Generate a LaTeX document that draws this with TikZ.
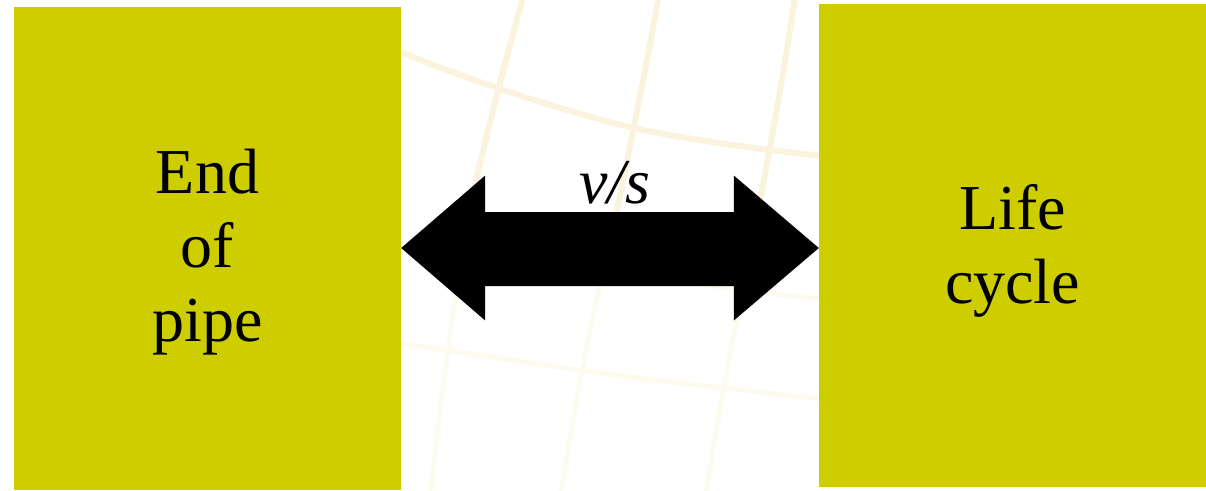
\documentclass[tikz,border=0pt]{standalone}
\usepackage{fontspec}
\setmainfont{Liberation Serif}
\usetikzlibrary{calc}
\definecolor{boxolive}{RGB}{206,205,0}
\definecolor{gridbeige}{RGB}{251,243,222}
\definecolor{gridfaint}{RGB}{253,250,238}
\tikzset{
  bigbox/.style={fill=boxolive, draw=none, inner sep=0pt},
  boxtext/.style={inner sep=0pt, align=center, font=\fontsize{64}{74}\selectfont},
  gridline/.style={draw=gridbeige, line width=6pt, line cap=round},
  gridlinefaint/.style={draw=gridfaint, line width=5pt, line cap=round}
}
\begin{document}
\begin{tikzpicture}[x=1pt,y=-1pt]
\useasboundingbox[fill=white] (0,0) rectangle (1206,490);
% faint background grid
\draw[gridline] (330,20) .. controls (430,70) and (560,110) .. (633,128) .. controls (700,142) and (780,152) .. (860,160);
\draw[gridlinefaint] (380,340) .. controls (480,355) and (600,375) .. (700,385) .. controls (760,392) and (800,398) .. (860,402);
\draw[gridlinefaint] (650,275) .. controls (720,288) and (780,296) .. (860,302);
\draw[gridline] (525,-10) .. controls (500,80) and (480,160) .. (465,230);
\draw[gridlinefaint] (465,230) .. controls (455,300) and (440,400) .. (430,500);
\draw[gridline] (660,-10) .. controls (640,100) and (625,170) .. (615,220);
\draw[gridlinefaint] (615,220) .. controls (595,300) and (575,400) .. (560,500);
\draw[gridline] (796,-10) .. controls (780,100) and (765,170) .. (755,230);
\draw[gridlinefaint] (755,230) .. controls (740,300) and (720,400) .. (705,500);
% boxes
\node[bigbox, minimum width=387pt, minimum height=483pt] (L) at (207.5,248.5) {};
\node[bigbox, minimum width=387pt, minimum height=483pt] (R) at (1012.5,245.5) {};
\node[boxtext] (Lt) at ($(L.center)+(0,4)$) {End\\of\\pipe};
\node[boxtext] (Rt) at ($(R.center)+(0,5)$) {Life\\cycle};
% double arrow between boxes
\coordinate (lt) at (L.east |- 0,248);
\coordinate (rt) at (R.west |- 0,248);
\fill[black] (lt) -- ($(lt)+(84,-72.5)$) -- ($(lt)+(84,-36)$) -- ($(rt)+(-85,-36)$) -- ($(rt)+(-85,-72.5)$) -- (rt)
  -- ($(rt)+(-85,72.5)$) -- ($(rt)+(-85,38)$) -- ($(lt)+(84,38)$) -- ($(lt)+(84,72.5)$) -- cycle;
\node[font=\fontsize{64}{72}\selectfont\itshape, anchor=base, inner sep=0pt] (vs) at (615,203) {v/s};
\end{tikzpicture}
\end{document}
